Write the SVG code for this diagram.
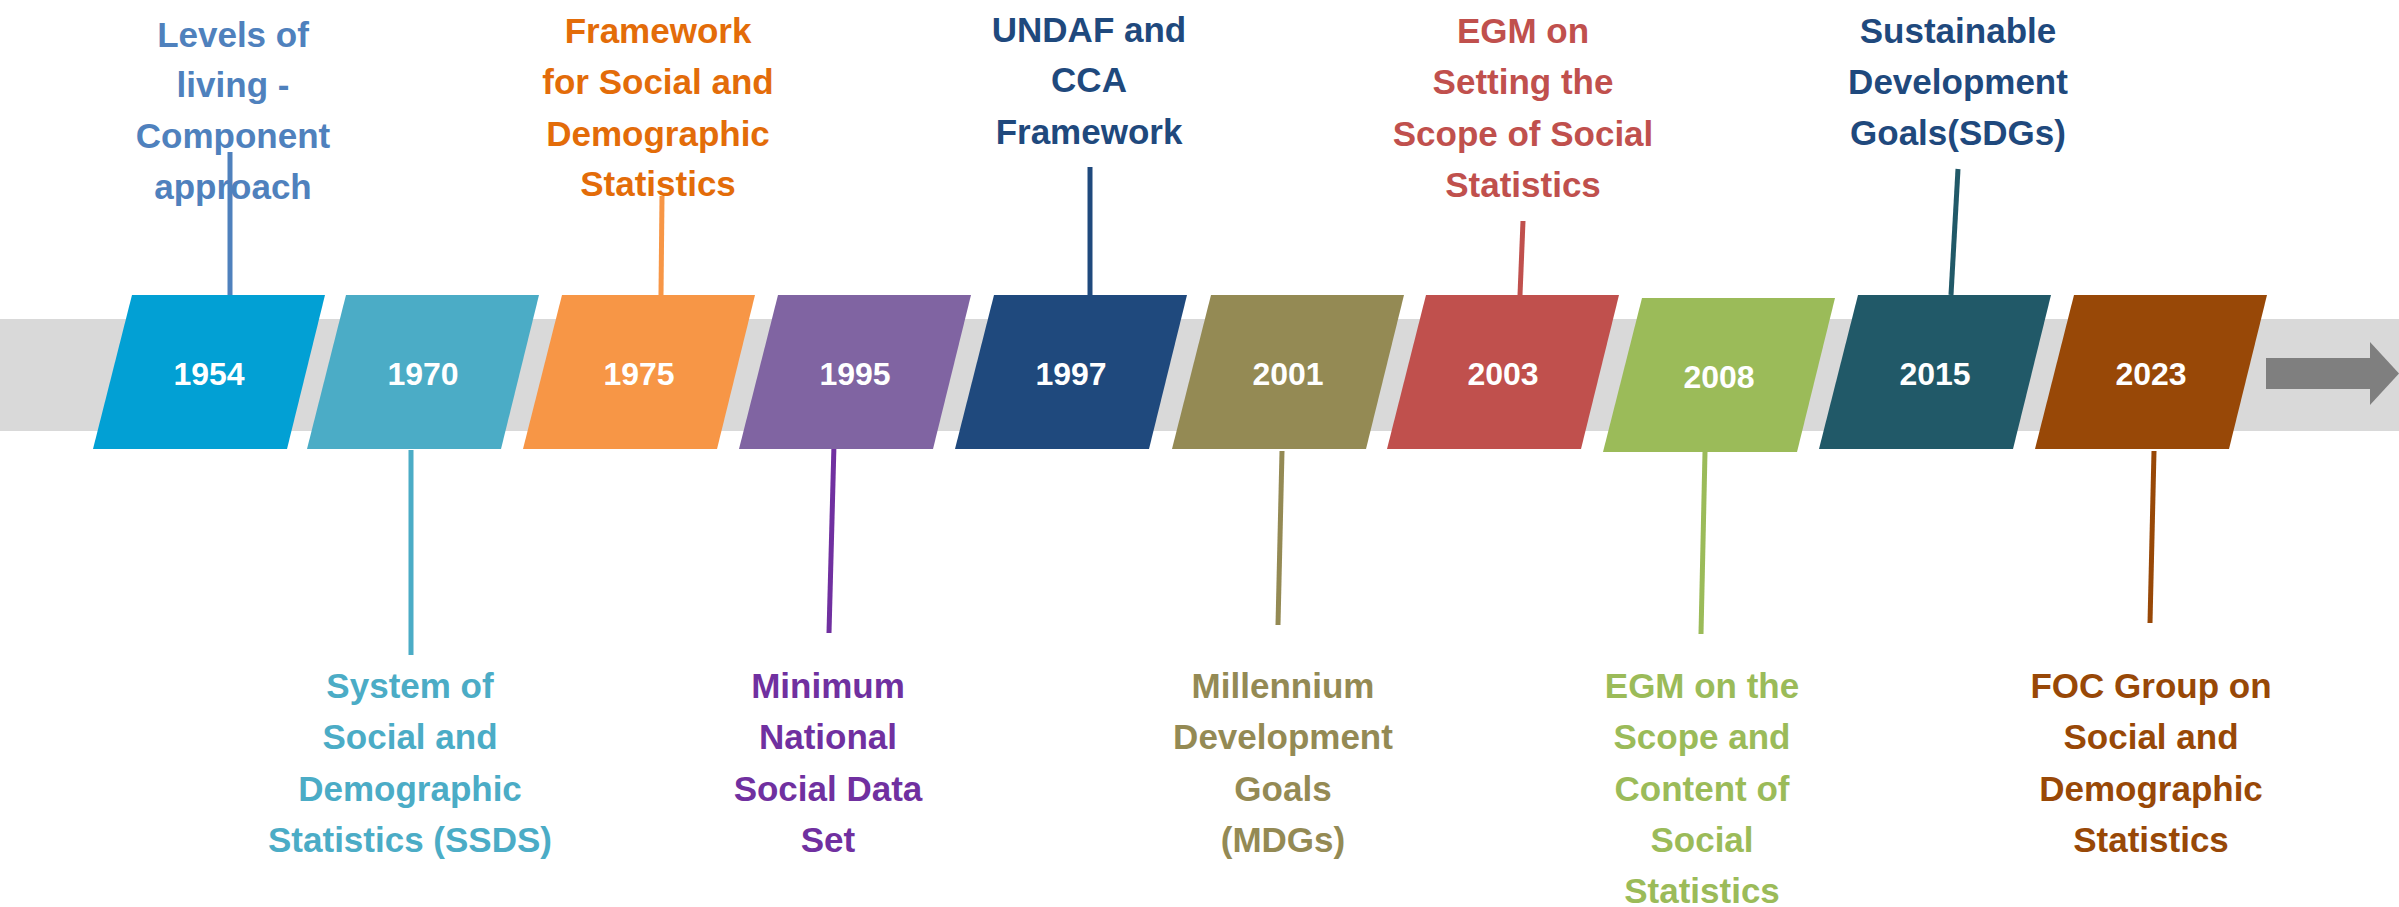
<svg xmlns="http://www.w3.org/2000/svg" width="2399" height="907" viewBox="0 0 2399 907">
<style>
.yr{font-family:"Liberation Sans",Arial,sans-serif;font-weight:bold;font-size:32px;fill:#fff;text-anchor:middle}
.lb{font-family:"Liberation Sans",Arial,sans-serif;font-weight:bold;font-size:35px;text-anchor:middle}
.cn{stroke-width:5;fill:none}
</style>
<rect x="0" y="319" width="2399" height="112" fill="#D9D9D9"/>
<g id="arrow">
<rect x="2266" y="358" width="105" height="31" fill="#7F7F7F"/>
<polygon points="2370,342 2399,373.5 2370,405" fill="#7F7F7F"/>
</g>
<g id="connectors">
<line class="cn" x1="230" y1="152" x2="230" y2="295" stroke="#4F81BD"/>
<line class="cn" x1="411" y1="450" x2="411" y2="655" stroke="#4BACC6"/>
<line class="cn" x1="662" y1="196" x2="661" y2="295" stroke="#F79646"/>
<line class="cn" x1="834" y1="444" x2="829" y2="633" stroke="#7030A0"/>
<line class="cn" x1="1090" y1="167" x2="1090" y2="295" stroke="#1F497D"/>
<line class="cn" x1="1282" y1="451" x2="1278" y2="625" stroke="#948A54"/>
<line class="cn" x1="1523" y1="221" x2="1520" y2="295" stroke="#C0504D"/>
<line class="cn" x1="1705" y1="452" x2="1701" y2="634" stroke="#9BBB59"/>
<line class="cn" x1="1958" y1="169" x2="1951" y2="295" stroke="#215968"/>
<line class="cn" x1="2154" y1="451" x2="2150" y2="623" stroke="#984807"/>
</g>
<g id="n1954">
<polygon points="132,295 325,295 287,449 93,449" fill="#02A0D4"/>
<text class="yr" x="209" y="385">1954</text>
<text class="lb" fill="#4F81BD"><tspan x="233" y="47">Levels of</tspan><tspan x="233" y="97">living -</tspan><tspan x="233" y="148">Component</tspan><tspan x="233" y="199">approach</tspan></text>
</g>
<g id="n1970">
<polygon points="346,295 539,295 501,449 307,449" fill="#4BACC6"/>
<text class="yr" x="423" y="385">1970</text>
<text class="lb" fill="#4BACC6"><tspan x="410" y="698">System of</tspan><tspan x="410" y="749">Social and</tspan><tspan x="410" y="801">Demographic</tspan><tspan x="410" y="852">Statistics (SSDS)</tspan></text>
</g>
<g id="n1975">
<polygon points="562,295 755,295 717,449 523,449" fill="#F79646"/>
<text class="yr" x="639" y="385">1975</text>
<text class="lb" fill="#E36C09"><tspan x="658" y="43">Framework</tspan><tspan x="658" y="94">for Social and</tspan><tspan x="658" y="146">Demographic</tspan><tspan x="658" y="196">Statistics</tspan></text>
</g>
<g id="n1995">
<polygon points="778,295 971,295 933,449 739,449" fill="#8064A2"/>
<text class="yr" x="855" y="385">1995</text>
<text class="lb" fill="#7030A0"><tspan x="828" y="698">Minimum</tspan><tspan x="828" y="749">National</tspan><tspan x="828" y="801">Social Data</tspan><tspan x="828" y="852">Set</tspan></text>
</g>
<g id="n1997">
<polygon points="994,295 1187,295 1149,449 955,449" fill="#1F497D"/>
<text class="yr" x="1071" y="385">1997</text>
<text class="lb" fill="#1F497D"><tspan x="1089" y="42">UNDAF and</tspan><tspan x="1089" y="92">CCA</tspan><tspan x="1089" y="144">Framework</tspan></text>
</g>
<g id="n2001">
<polygon points="1211,295 1404,295 1366,449 1172,449" fill="#948A54"/>
<text class="yr" x="1288" y="385">2001</text>
<text class="lb" fill="#948A54"><tspan x="1283" y="698">Millennium</tspan><tspan x="1283" y="749">Development</tspan><tspan x="1283" y="801">Goals</tspan><tspan x="1283" y="852">(MDGs)</tspan></text>
</g>
<g id="n2003">
<polygon points="1426,295 1619,295 1581,449 1387,449" fill="#C0504D"/>
<text class="yr" x="1503" y="385">2003</text>
<text class="lb" fill="#C0504D"><tspan x="1523" y="43">EGM on</tspan><tspan x="1523" y="94">Setting the</tspan><tspan x="1523" y="146">Scope of Social</tspan><tspan x="1523" y="197">Statistics</tspan></text>
</g>
<g id="n2008">
<polygon points="1642,298 1835,298 1797,452 1603,452" fill="#9BBB59"/>
<text class="yr" x="1719" y="388">2008</text>
<text class="lb" fill="#9BBB59"><tspan x="1702" y="698">EGM on the</tspan><tspan x="1702" y="749">Scope and</tspan><tspan x="1702" y="801">Content of</tspan><tspan x="1702" y="852">Social</tspan><tspan x="1702" y="903">Statistics</tspan></text>
</g>
<g id="n2015">
<polygon points="1858,295 2051,295 2013,449 1819,449" fill="#215968"/>
<text class="yr" x="1935" y="385">2015</text>
<text class="lb" fill="#1F497D"><tspan x="1958" y="43">Sustainable</tspan><tspan x="1958" y="94">Development</tspan><tspan x="1958" y="145">Goals(SDGs)</tspan></text>
</g>
<g id="n2023">
<polygon points="2074,295 2267,295 2229,449 2035,449" fill="#984807"/>
<text class="yr" x="2151" y="385">2023</text>
<text class="lb" fill="#984807"><tspan x="2151" y="698">FOC Group on</tspan><tspan x="2151" y="749">Social and</tspan><tspan x="2151" y="801">Demographic</tspan><tspan x="2151" y="852">Statistics</tspan></text>
</g>
</svg>
